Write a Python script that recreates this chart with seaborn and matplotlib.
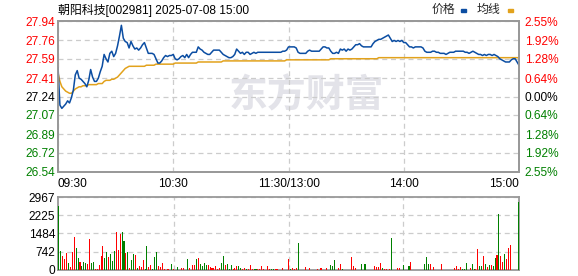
import matplotlib
matplotlib.use("Agg")
import matplotlib.pyplot as plt
from matplotlib.patches import Rectangle
import seaborn as sns
import pandas as pd

# ---------------- data ----------------
price = [
    27.51, 27.16, 27.13, 27.15, 27.17, 27.20, 27.18, 27.23, 27.30, 27.44,
    27.48, 27.41, 27.40, 27.38, 27.36, 27.33, 27.39, 27.49, 27.42, 27.38,
    27.38, 27.41, 27.47, 27.52, 27.63, 27.59, 27.56, 27.64, 27.66, 27.61,
    27.64, 27.71, 27.80, 27.90, 27.78, 27.75, 27.74, 27.69, 27.75, 27.71,
    27.68, 27.69, 27.67, 27.69, 27.72, 27.74, 27.69, 27.64, 27.64, 27.64,
    27.63, 27.59, 27.55, 27.55, 27.57, 27.60, 27.62, 27.61, 27.62, 27.62,
    27.63, 27.59, 27.58, 27.59, 27.61, 27.62, 27.60, 27.63, 27.60, 27.63,
    27.65, 27.65, 27.65, 27.70, 27.68, 27.67, 27.65, 27.64, 27.63, 27.63,
    27.65, 27.67, 27.67, 27.67, 27.67, 27.65, 27.63, 27.62, 27.61, 27.60,
    27.60, 27.61, 27.63, 27.68, 27.66, 27.64, 27.65, 27.63, 27.65, 27.65,
    27.63, 27.64, 27.65, 27.64, 27.65, 27.65, 27.65, 27.65, 27.65, 27.65,
    27.65, 27.65, 27.65, 27.65, 27.65, 27.65, 27.65, 27.66, 27.66, 27.67,
    27.70, 27.70, 27.70, 27.70, 27.69, 27.65, 27.64, 27.64, 27.64, 27.64,
    27.66, 27.67, 27.66, 27.66, 27.66, 27.66, 27.66, 27.68, 27.70, 27.70,
    27.69, 27.69, 27.66, 27.64, 27.64, 27.65, 27.64, 27.68, 27.67, 27.68,
    27.66, 27.68, 27.67, 27.68, 27.70, 27.72, 27.72, 27.73, 27.71, 27.70,
    27.70, 27.70, 27.70, 27.70, 27.73, 27.75, 27.76, 27.77, 27.77, 27.78,
    27.79, 27.80, 27.81, 27.78, 27.75, 27.76, 27.75, 27.76, 27.75, 27.76,
    27.74, 27.74, 27.72, 27.70, 27.70, 27.69, 27.70, 27.70, 27.70, 27.70,
    27.69, 27.66, 27.65, 27.65, 27.65, 27.66, 27.66, 27.65, 27.65, 27.64,
    27.64, 27.64, 27.63, 27.64, 27.65, 27.65, 27.65, 27.66, 27.66, 27.66,
    27.66, 27.66, 27.65, 27.65, 27.64, 27.65, 27.66, 27.65, 27.64, 27.63,
    27.63, 27.62, 27.63, 27.62, 27.63, 27.63, 27.62, 27.63, 27.62, 27.61,
    27.59, 27.58, 27.57, 27.56, 27.56, 27.56, 27.58, 27.59, 27.59, 27.56,
    27.53,
]

avg = (
    [27.46, 27.38, 27.33, 27.31, 27.29, 27.28, 27.27, 27.27, 27.29, 27.31,
     27.32, 27.33, 27.33, 27.34, 27.34, 27.34, 27.35, 27.35, 27.35, 27.35,
     27.35, 27.36, 27.36, 27.36, 27.38, 27.39, 27.39, 27.39, 27.40, 27.40,
     27.41, 27.42, 27.44, 27.46, 27.48, 27.50, 27.51, 27.52, 27.52]
    + [27.52] * 7 + [27.53] * 5 + [27.54] * 10 + [27.55] * 12
    + [27.56] * 13 + [27.57] * 33 + [27.58] * 23 + [27.59] * 25
    + [27.60] * 74
)

volume = [
    2583, 769, 563, 453, 687, 275, 110, 728, 1347, 893,
    481, 316, 151, 316, 275, 234, 1264, 275, 316, 27,
    27, 192, 563, 975, 481, 728, 522, 646, 357, 769,
    1553, 811, 1470, 1553, 1182, 687, 728, 69, 398, 646,
    605, 69, 151, 110, 398, 27, 975, 110, 192, 27,
    522, 728, 151, 110, 275, 27, 14, 27, 14, 234,
    27, 14, 110, 14, 69, 69, 14, 440, 69, 14,
    192, 192, 440, 481, 234, 151, 275, 192, 192, 110,
    69, 69, 151, 27, 69, 275, 563, 192, 234, 27,
    192, 27, 69, 151, 151, 69, 27, 69, 27, 27,
    192, 27, 27, 27, 27, 27, 151, 27, 14, 151,
    27, 27, 27, 27, 27, 14, 14, 69, 14, 14,
    440, 27, 69, 27, 69, 1099, 14, 14, 14, 110,
    14, 69, 14, 14, 14, 27, 14, 69, 14, 14,
    69, 14, 192, 151, 398, 14, 69, 234, 27, 14,
    14, 14, 14, 522, 151, 69, 14, 14, 234, 14,
    234, 14, 14, 14, 14, 151, 110, 110, 275, 69,
    27, 27, 14, 27, 1305, 14, 14, 69, 69, 14,
    192, 14, 14, 151, 316, 14, 14, 14, 14, 14,
    14, 234, 522, 234, 234, 14, 110, 14, 14, 14,
    234, 14, 14, 14, 14, 14, 14, 69, 151, 27,
    110, 27, 27, 275, 14, 69, 234, 27, 27, 852,
    151, 151, 563, 234, 110, 192, 192, 151, 481, 605,
    2295, 563, 316, 646, 440, 893, 1017, 14, 14, 14,
    2750,
]

direction = list(
    "GGRRRGRRRG" "GRGGGRRGGR" "RRRRGGRGGG" "RRRGGRGRGG"
    "RGRRRGGRRG" "GGRRRRRRRG" "RRGRRRGGRR" "RRGRGGGGRR"
    "RRRRRGGRGG" "GRRRGGRRGR" "RRGGRRRRGR" "RGGRRRRRRR"
    "RGRRRGRRRR" "RRGGRRRRGR" "RRGGGRRRGG" "GGGRRRRRGR"
    "GRRRRRRRRG" "RRRRGRRRRG" "GRRGRGGRRR" "RGGGRRRGGR"
    "RGGRRRRRRR" "RGGGRRGGRR" "GGRGRGRGGR" "GRRGRRRRRR"
    "G"
)

prev_close = 27.24
price_ticks = [27.94, 27.76, 27.59, 27.41, 27.24, 27.07, 26.89, 26.72, 26.54]
pct_labels = ["2.55%", "1.92%", "1.28%", "0.64%", "0.00%",
              "0.64%", "1.28%", "1.92%", "2.55%"]
vol_ticks = [0, 742, 1484, 2225, 2967]
time_pos = [0, 60, 120, 180, 240]
time_labels = ["09:30", "10:30", "11:30/13:00", "14:00", "15:00"]
title = "朝阳科技[002981] 2025-07-08 15:00"

# ---------------- style ----------------
sns.set_theme(style="white")
plt.rcParams["font.family"] = ["Liberation Sans", "Noto Sans CJK SC", "DejaVu Sans"]

RED = "#ff0000"
GREEN = "#008000"
BLUE = "#0b4da2"
GOLD = "#e2a21c"
GRID = "#cccccc"
SPINE = "#999999"
FS = 8.6

df = pd.DataFrame({
    "t": range(len(price)),
    "price": price,
    "avg": avg,
    "volume": volume,
    "dir": direction,
})

fig = plt.figure(figsize=(5.78, 2.76), dpi=100)
W, H = 578, 276
ax = fig.add_axes([58 / W, 1 - 172 / H, 461 / W, 151 / H])
axv = fig.add_axes([58 / W, 1 - 270 / H, 461 / W, 73 / H])

# watermark
ax.text(0.54, 0.505, "东方财富", transform=ax.transAxes, fontsize=28,
        fontweight="bold", color="#e3e3e9", ha="center", va="center",
        family=["Noto Sans CJK SC"], zorder=0)

# price + average lines
sns.lineplot(data=df, x="t", y="price", ax=ax, color=BLUE, lw=1.1, zorder=3)
sns.lineplot(data=df, x="t", y="avg", ax=ax, color=GOLD, lw=1.1, zorder=2)

ax.set_xlim(0, 240)
ax.set_ylim(price_ticks[-1], price_ticks[0])
ax.set_xlabel("")
ax.set_ylabel("")
ax.set_yticks(price_ticks)
ax.set_yticklabels([f"{v:.2f}" for v in price_ticks])
ax.set_xticks(time_pos)
ax.set_xticklabels(time_labels)
xl = ax.get_xticklabels()
xl[0].set_ha("left")
xl[-1].set_ha("right")
ax.tick_params(axis="both", length=0, labelsize=FS, colors="black")
ax.tick_params(axis="y", pad=2)
ax.tick_params(axis="x", pad=4)
ax.grid(True, ls=(0, (4, 3)), color=GRID, lw=0.9)


def tick_color(v):
    if abs(v - prev_close) < 1e-6:
        return "black"
    return RED if v > prev_close else GREEN


for lab, v in zip(ax.get_yticklabels(), price_ticks):
    lab.set_color(tick_color(v))

ax2 = ax.twinx()
ax2.set_ylim(ax.get_ylim())
ax2.set_yticks(price_ticks)
ax2.set_yticklabels(pct_labels)
ax2.tick_params(axis="y", length=0, labelsize=FS, pad=4)
for lab, v in zip(ax2.get_yticklabels(), price_ticks):
    lab.set_color(tick_color(v))
ax2.grid(False)

for a in (ax, ax2):
    for s in a.spines.values():
        s.set_color(SPINE)
        s.set_linewidth(1.3)

# volume bars
sns.barplot(data=df, x="t", y="volume", hue="dir",
            palette={"R": RED, "G": GREEN}, native_scale=True,
            width=0.55, dodge=False, saturation=1, legend=False,
            linewidth=0, ax=axv, zorder=3)
axv.set_xlim(-0.5, 240.5)
axv.set_ylim(0, vol_ticks[-1])
axv.set_yticks(vol_ticks)
axv.set_yticklabels([str(v) for v in vol_ticks])
axv.set_xticks(time_pos[1:-1])
axv.set_xticklabels([])
axv.set_xlabel("")
axv.set_ylabel("")
axv.tick_params(axis="both", length=0, labelsize=FS, colors="black", pad=2)
axv.grid(True, ls=(0, (4, 3)), color=GRID, lw=0.9)
for s in axv.spines.values():
    s.set_color(SPINE)
    s.set_linewidth(1.3)

# title and legend
fig.text(58 / W, 1 - 10 / H, title, fontsize=FS, va="center", ha="left",
         color="black")
fig.text(432 / W, 1 - 10 / H, "价格", fontsize=FS, va="center", ha="left")
fig.text(477 / W, 1 - 10 / H, "均线", fontsize=FS, va="center", ha="left")
fig.patches.append(Rectangle((461 / W, 1 - 12 / H), 5 / W, 3 / H,
                             transform=fig.transFigure, color=BLUE))
fig.patches.append(Rectangle((508 / W, 1 - 12 / H), 5 / W, 3 / H,
                             transform=fig.transFigure, color=GOLD))

fig.savefig("out.png", dpi=100)
